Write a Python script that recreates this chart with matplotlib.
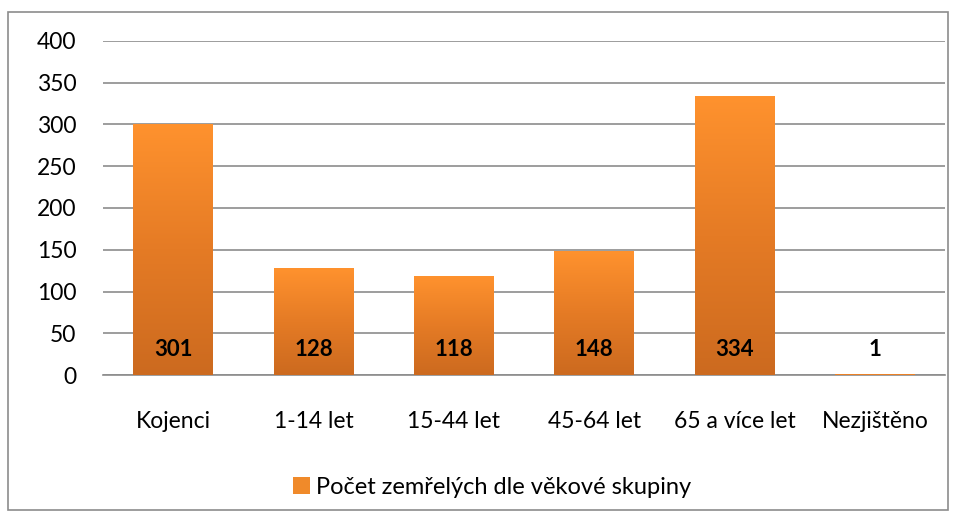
import matplotlib
matplotlib.use("Agg")
import matplotlib.pyplot as plt
import numpy as np
from matplotlib.patches import Rectangle
from matplotlib.colors import LinearSegmentedColormap

categories = ["Kojenci", "1-14 let", "15-44 let", "45-64 let", "65 a více let", "Nezjištěno"]
values = [301, 128, 118, 148, 334, 1]
yticks = [0, 50, 100, 150, 200, 250, 300, 350, 400]
legend_label = "Počet zemřelých dle věkové skupiny"

plt.rcParams['font.family'] = ['Lato', 'DejaVu Sans']

fig = plt.figure(figsize=(9.6, 5.2), dpi=100)
W, H = 960, 520
ax = fig.add_axes([103 / W, 1 - 375 / H, (945 - 103) / W, (375 - 41) / H])

# figure border
fig.patches.append(Rectangle((8 / W, 1 - 510 / H), 940 / W, 498 / H, transform=fig.transFigure,
                             fill=False, edgecolor="#8c8c8c", linewidth=1.2))

cmap = LinearSegmentedColormap.from_list("org", ["#cc6a1f", "#e57b25", "#ff922e"])
grad = np.linspace(0, 1, 256).reshape(-1, 1)

x = np.arange(len(categories))
bars = ax.bar(x, values, width=0.57, color="#f08a2a", zorder=2, edgecolor="none")
for b in bars:
    bx, by = b.get_x(), b.get_y()
    bw, bh = b.get_width(), b.get_height()
    if bh <= 0:
        continue
    im = ax.imshow(grad, cmap=cmap, origin="lower", aspect="auto",
                   extent=[bx, bx + bw, by, by + bh], zorder=3)
    im.set_clip_path(b)
    b.set_facecolor("none")

for xi, v in zip(x, values):
    ax.text(xi, 30, str(v), ha="center", va="center", fontsize=16, fontweight="bold",
            color="black", zorder=5)

ax.set_xlim(-0.5, len(categories) - 0.5)
ax.set_ylim(0, 400)
ax.set_yticks(yticks)
ax.set_yticklabels([str(t) for t in yticks], fontsize=16.5)
ax.set_xticks(x)
ax.set_xticklabels(categories, fontsize=16.5)
ax.tick_params(axis="both", length=0)
ax.tick_params(axis="y", pad=19)
ax.tick_params(axis="x", pad=26)
ax.yaxis.grid(True, color="#8c8c8c", linewidth=1.2, zorder=0)
ax.set_axisbelow(True)
for s in ["top", "right", "left"]:
    ax.spines[s].set_visible(False)
ax.spines["bottom"].set_color("#8c8c8c")
ax.spines["bottom"].set_linewidth(1.2)

# legend
handle = Rectangle((0, 0), 1, 1, facecolor="#f08a2a", edgecolor="none")
leg = fig.legend([handle], [legend_label], loc="center", bbox_to_anchor=(492 / W, 1 - 487 / H),
                 frameon=False, fontsize=17, handlelength=0.75, handleheight=0.75, handletextpad=0.25)

fig.savefig("out.png", dpi=100)
